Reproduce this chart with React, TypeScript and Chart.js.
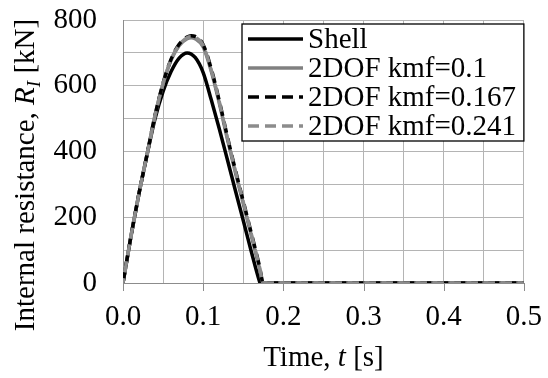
import React, { useEffect, useRef } from "react";
import { Chart, registerables } from "chart.js";

Chart.register(...registerables);

// ---- data ----
const shellTimes = [0, 0.01, 0.02, 0.03, 0.04, 0.05, 0.06, 0.07, 0.08, 0.09, 0.1, 0.11, 0.12, 0.13, 0.14, 0.15, 0.16, 0.17, 0.171, 0.2, 0.25, 0.3, 0.35, 0.4, 0.45, 0.5];
const shellValues = [0, 143, 273, 390, 500, 583, 643, 684, 700, 686, 640, 558, 470, 377, 283, 190, 96, 7, 0, 0, 0, 0, 0, 0, 0, 0];

const dofTimes = [0, 0.01, 0.02, 0.03, 0.04, 0.05, 0.06, 0.07, 0.08, 0.085, 0.09, 0.1, 0.11, 0.12, 0.13, 0.14, 0.15, 0.16, 0.17, 0.175, 0.2, 0.25, 0.3, 0.35, 0.4, 0.45, 0.5];
const kmf0100Values = [0, 143, 273, 391, 510, 606, 678, 722, 743, 746, 743, 718, 645, 548, 440, 338, 242, 145, 47, 0, 0, 0, 0, 0, 0, 0, 0];
const kmf0167Values = [0, 143, 273, 391, 511, 608, 681, 726, 748, 752, 750, 725, 652, 555, 447, 345, 249, 152, 54, 0, 0, 0, 0, 0, 0, 0, 0];
const kmf0241Values = [0, 143, 273, 391, 510, 607, 680, 724, 746, 749, 747, 722, 648, 552, 444, 342, 246, 149, 51, 0, 0, 0, 0, 0, 0, 0, 0];

const seriesLabels = ["Shell", "2DOF kmf=0.1", "2DOF kmf=0.167", "2DOF kmf=0.241"];

const xMin = 0;
const xMax = 0.5;
const xStep = 0.05;
const yMin = 0;
const yMax = 800;
const yStep = 100;

const FONT = '"Liberation Serif", "Times New Roman", "DejaVu Serif", serif';
const FS = 29;
const GRID = "#b4b4b4";
const AXIS = "#8c8c8c";

const toPoints = (xs: number[], ys: number[]) => xs.map((x, i) => ({ x, y: ys[i] }));

const overlayPlugin = {
  id: "overlay",
  afterDraw(chart: any) {
    const ctx: CanvasRenderingContext2D = chart.ctx;
    const area = chart.chartArea;
    ctx.save();

    // x-axis tick marks (labelled ticks only)
    const xs = chart.scales.x;
    ctx.strokeStyle = AXIS;
    ctx.lineWidth = 1;
    xs.ticks.forEach((t: any, i: number) => {
      if (i % 2 !== 0) return;
      const px = Math.round(xs.getPixelForValue(t.value)) + 0.5;
      ctx.beginPath();
      ctx.moveTo(px, area.bottom);
      ctx.lineTo(px, area.bottom + 8);
      ctx.stroke();
    });

    // Legend box
    const bx = 242;
    const by = area.top + 4;
    const bw = area.right - bx;
    const bh = 117;
    ctx.fillStyle = "#ffffff";
    ctx.fillRect(bx, by, bw, bh);
    ctx.strokeStyle = "#000000";
    ctx.lineWidth = 1.3;
    ctx.strokeRect(bx, by, bw, bh);

    const datasets = chart.data.datasets;
    ctx.font = `${FS}px ${FONT}`;
    ctx.textBaseline = "middle";
    ctx.textAlign = "left";
    datasets.forEach((ds: any, i: number) => {
      const cy = by + 15 + i * 29;
      ctx.save();
      ctx.strokeStyle = ds.borderColor;
      ctx.lineWidth = ds.borderWidth;
      ctx.setLineDash(ds.borderDash || []);
      ctx.lineCap = "butt";
      ctx.beginPath();
      ctx.moveTo(bx + 6, cy);
      ctx.lineTo(bx + 61, cy);
      ctx.stroke();
      ctx.restore();
      ctx.fillStyle = "#000000";
      ctx.fillText(ds.label, bx + 66, cy + 1);
    });

    // X axis title: "Time, t [s]"
    const xParts = [
      { t: "Time, ", f: `${FS}px ${FONT}` },
      { t: "t", f: `italic ${FS}px ${FONT}` },
      { t: " [s]", f: `${FS}px ${FONT}` },
    ];
    ctx.textBaseline = "alphabetic";
    let total = 0;
    xParts.forEach((p) => {
      ctx.font = p.f;
      total += ctx.measureText(p.t).width;
    });
    let x = (area.left + area.right) / 2 - total / 2;
    xParts.forEach((p) => {
      ctx.font = p.f;
      ctx.fillText(p.t, x, 366);
      x += ctx.measureText(p.t).width;
    });

    // Y axis title: "Internal resistance, R_I [kN]"
    const yParts = [
      { t: "Internal resistance, ", f: `${FS}px ${FONT}`, dy: 0 },
      { t: "R", f: `italic ${FS}px ${FONT}`, dy: 0 },
      { t: "I", f: `italic ${Math.round(FS * 0.65)}px ${FONT}`, dy: 6 },
      { t: " [kN]", f: `${FS}px ${FONT}`, dy: 0 },
    ];
    total = 0;
    yParts.forEach((p) => {
      ctx.font = p.f;
      total += ctx.measureText(p.t).width;
    });
    ctx.translate(34, 175);
    ctx.rotate(-Math.PI / 2);
    x = -total / 2;
    yParts.forEach((p) => {
      ctx.font = p.f;
      ctx.fillText(p.t, x, p.dy);
      x += ctx.measureText(p.t).width;
    });

    ctx.restore();
  },
};

export default function App() {
  const canvasRef = useRef<HTMLCanvasElement | null>(null);

  useEffect(() => {
    document.body.style.margin = "0";
    const canvas = canvasRef.current;
    if (!canvas) return;

    const chart = new Chart(canvas, {
      type: "line",
      data: {
        datasets: [
          {
            label: seriesLabels[0],
            data: toPoints(shellTimes, shellValues),
            borderColor: "#000000",
            borderWidth: 3.5,
            order: 4,
          },
          {
            label: seriesLabels[1],
            data: toPoints(dofTimes, kmf0100Values),
            borderColor: "#808080",
            borderWidth: 3.5,
            order: 3,
          },
          {
            label: seriesLabels[2],
            data: toPoints(dofTimes, kmf0167Values),
            borderColor: "#000000",
            borderWidth: 3.5,
            borderDash: [11, 6],
            order: 2,
          },
          {
            label: seriesLabels[3],
            data: toPoints(dofTimes, kmf0241Values),
            borderColor: "#8c8c8c",
            borderWidth: 3.5,
            borderDash: [11, 6],
            borderDashOffset: 6,
            order: 1,
          },
        ] as any,
      },
      options: {
        responsive: false,
        animation: false,
        events: [],
        layout: { padding: { top: 20, right: 24, left: 0, bottom: 0 } },
        elements: {
          point: { radius: 0 },
          line: { cubicInterpolationMode: "monotone", fill: false, borderCapStyle: "butt" },
        },
        plugins: {
          legend: { display: false },
          tooltip: { enabled: false },
          title: { display: false },
        },
        scales: {
          x: {
            type: "linear",
            min: xMin,
            max: xMax,
            afterFit: (scale: any) => {
              scale.height = 95;
            },
            ticks: {
              stepSize: xStep,
              autoSkip: false,
              maxRotation: 0,
              padding: 6,
              color: "#000000",
              font: { family: FONT, size: FS },
              callback: (value: any, index: number) => (index % 2 === 0 ? Number(value).toFixed(1) : ""),
            },
            grid: {
              color: GRID,
              lineWidth: 1,
              drawTicks: true,
              tickLength: 11,
              tickColor: "rgba(0,0,0,0)",
            },
            border: { color: AXIS, width: 1 },
          },
          y: {
            type: "linear",
            min: yMin,
            max: yMax,
            afterFit: (scale: any) => {
              scale.width = 123;
            },
            ticks: {
              stepSize: yStep,
              autoSkip: false,
              padding: 2,
              color: "#000000",
              font: { family: FONT, size: FS },
              callback: (value: any) => (Number(value) % 200 === 0 ? String(value) : ""),
            },
            grid: {
              color: GRID,
              lineWidth: 1,
              drawTicks: true,
              tickLength: 24,
              tickColor: "rgba(0,0,0,0)",
            },
            border: { color: AXIS, width: 1 },
          },
        },
      },
      plugins: [overlayPlugin],
    } as any);

    return () => {
      chart.destroy();
    };
  }, []);

  return (
    <div style={{ width: 548, height: 378, position: "relative" }}>
      <canvas ref={canvasRef} width={548} height={378} style={{ display: "block" }} />
    </div>
  );
}
